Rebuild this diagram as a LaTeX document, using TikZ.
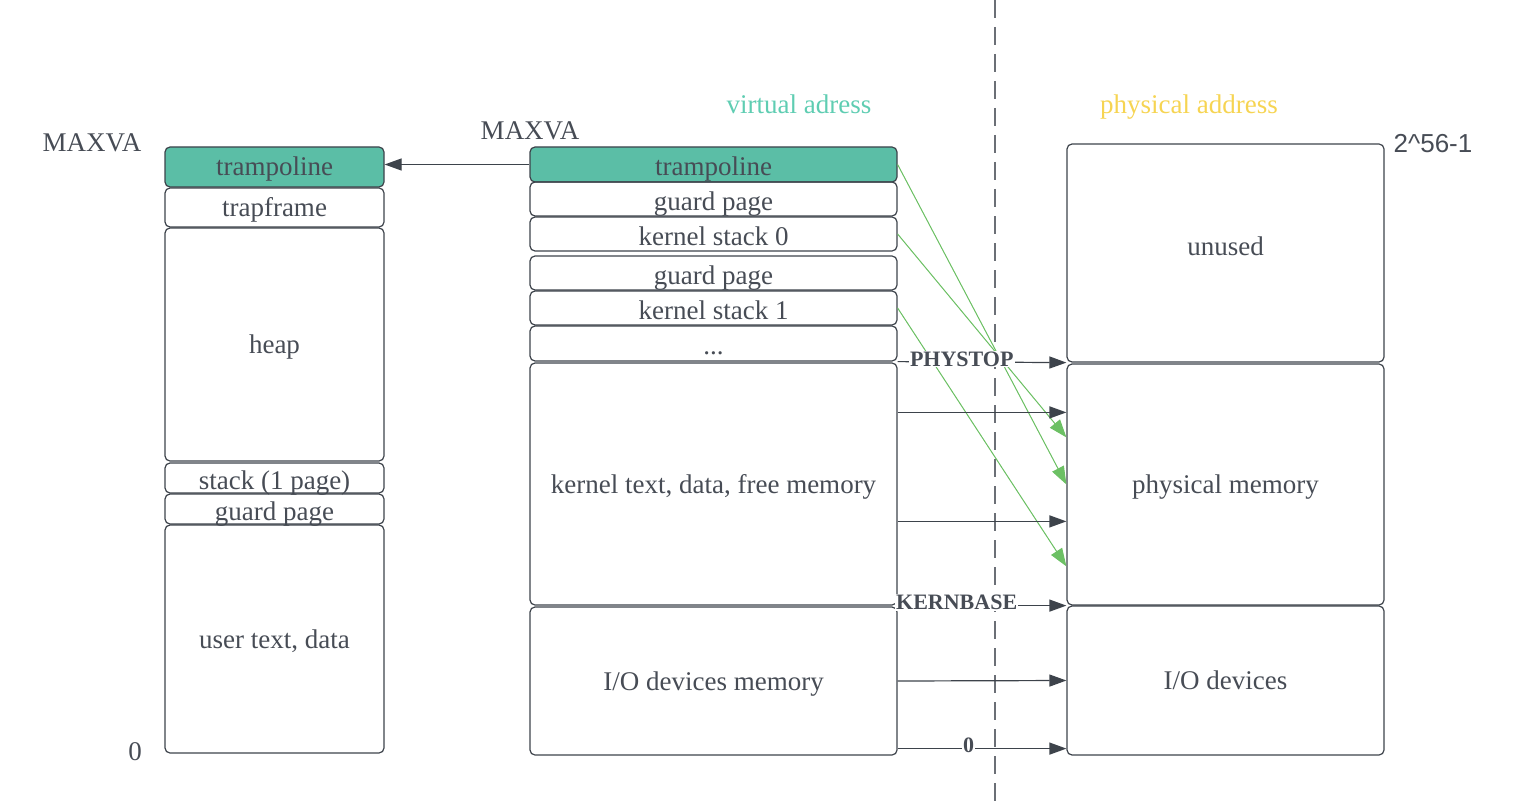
\documentclass[tikz,border=0pt]{standalone}
\usepackage{fontspec}
\setmainfont{Liberation Serif}
\newfontfamily\labelsans{Liberation Sans}
\usetikzlibrary{arrows.meta}
\definecolor{boxline}{HTML}{3D434B}
\definecolor{txtgray}{HTML}{474C55}
\definecolor{tealfill}{HTML}{5BBEA6}
\definecolor{tealtext}{HTML}{5FCDB2}
\definecolor{yellowtext}{HTML}{F6D452}
\definecolor{mapgreen}{HTML}{6CC064}
\definecolor{dashgray}{HTML}{6B6F76}
\begin{document}
\begin{tikzpicture}[x=0.5pt,y=-0.5pt,text=txtgray,font=\fontsize{13.5}{16}\selectfont,
  seg/.style={draw=boxline,rounded corners=2.5pt,inner sep=0pt,line width=0.6pt,text height=0.92em,text depth=0.02em},
  slim/.style={seg,text height=1.14em},
  map/.style={-{Triangle[length=8.5pt,width=6pt]},draw=boxline,line width=0.6pt},
  gmap/.style={-{Triangle[length=9pt,width=6.5pt]},draw=mapgreen,fill=mapgreen,line width=0.5pt},
  tag/.style={font=\bfseries\fontsize{11}{13}\selectfont,fill=white,inner sep=0.5pt,yshift=1.5pt}]
 \useasboundingbox (0,0) rectangle (1518,802);
 \begin{scope}
  \node[seg,fill=tealfill,minimum width=109.5pt,minimum height=20pt] (utramp) at (274.5,167) {trampoline};
  \node[seg,minimum width=109.5pt,minimum height=19.5pt] (utrap) at (274.5,207.5) {trapframe};
  \node[seg,minimum width=109.5pt,minimum height=116.5pt] (uheap) at (274.5,344.5) {heap};
  \node[slim,minimum width=109.5pt,minimum height=15pt] (ustack) at (274.5,478) {stack (1 page)};
  \node[slim,minimum width=109.5pt,minimum height=15pt] (uguard) at (274.5,509) {guard page};
  \node[seg,minimum width=109.5pt,minimum height=114pt] (utext) at (274.5,639) {user text, data};
  \node (umax) at (92,143) {MAXVA};
  \node (uzero) at (135,752) {0};
 \end{scope}
 \begin{scope}
  \node[slim,fill=tealfill,minimum width=183.5pt,minimum height=17.5pt] (vtramp) at (713.5,164.5) {trampoline};
  \node[slim,minimum width=183.5pt,minimum height=17pt] (vguard0) at (713.5,199) {guard page};
  \node[slim,minimum width=183.5pt,minimum height=17pt] (kstack0) at (713.5,234) {kernel stack 0};
  \node[slim,minimum width=183.5pt,minimum height=17pt] (vguard1) at (713.5,273) {guard page};
  \node[slim,minimum width=183.5pt,minimum height=17pt] (kstack1) at (713.5,308) {kernel stack 1};
  \node[slim,minimum width=183.5pt,minimum height=17.5pt] (vdots) at (713.5,343.5) {...};
  \node[seg,minimum width=183.5pt,minimum height=121pt] (vkernel) at (713.5,484) {kernel text, data, free memory};
  \node[seg,minimum width=183.5pt,minimum height=74pt] (viomem) at (713.5,681) {I/O devices memory};
  \node (vmax) at (530,131) {MAXVA};
  \node[text=tealtext] (vtitle) at (799,104) {virtual adress};
 \end{scope}
 \begin{scope}
  \node[seg,minimum width=158.5pt,minimum height=109pt] (punused) at (1225.5,253) {\raisebox{3.5pt}{unused}};
  \node[seg,minimum width=158.5pt,minimum height=120.5pt] (pmem) at (1225.5,484.5) {physical memory};
  \node[seg,minimum width=158.5pt,minimum height=74.5pt] (piodev) at (1225.5,680.5) {I/O devices};
  \node[text=yellowtext] (ptitle) at (1189,107) {physical address};
  \node[font=\labelsans\fontsize{13}{15}\selectfont] (ptop) at (1433,144) {2\textasciicircum 56-1};
 \end{scope}
 \draw[dashgray,line width=1pt,dash pattern=on 9pt off 4.5pt] (995,0) -- (995,802);
 \draw[gmap] (vtramp.east) -- (pmem.west);
 \draw[gmap] (kstack0.east) -- ([yshift=-37pt]pmem.north west);
 \draw[gmap] (kstack1.east) -- ([yshift=-101.5pt]pmem.north west);
 \coordinate (k1) at ([yshift=-25pt]vkernel.north east);
 \coordinate (k2) at ([yshift=-79.5pt]vkernel.north east);
 \coordinate (z1) at ([yshift=3.5pt]viomem.south east);
 \draw[map] (vtramp.west) -- (vtramp.west -| utramp.east);
 \draw[map] (vdots.south east) -- node[tag,pos=0.38] {PHYSTOP} (punused.south west);
 \draw[map] (k1) -- (k1 -| pmem.west);
 \draw[map] (k2) -- (k2 -| pmem.west);
 \draw[map] (vkernel.south east) -- node[tag,pos=0.35] {KERNBASE} (pmem.south west);
 \draw[map] (viomem.east) -- (piodev.west);
 \draw[map] (z1) -- node[tag,pos=0.42] {0} (z1 -| piodev.west);
\end{tikzpicture}
\end{document}
